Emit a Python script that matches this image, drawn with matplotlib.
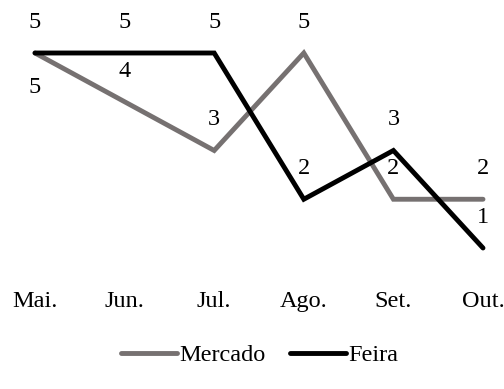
import matplotlib.pyplot as plt

# Data
meses = ["Mai.", "Jun.", "Jul.", "Ago.", "Set.", "Out."]
mercado = [5, 4, 3, 5, 2, 2]
feira = [5, 5, 5, 2, 3, 1]

plt.rcParams['font.family'] = ['Liberation Serif', 'DejaVu Serif']

fig = plt.figure(figsize=(5.04, 3.89), dpi=100)
W, H = 504, 389
# axes area in pixels (plot region only)
ax = fig.add_axes([0, 1 - 270 / H, 1, 270 / H])

x = list(range(len(meses)))
step = 89.6
ax.set_xlim(-35 / step, (W - 35) / step)
unit = 48.75
ax.set_ylim(5 - (270 - 53) / unit, 5 + 53 / unit)

gray = "#767171"
ax.plot(x, mercado, color=gray, lw=3.5, solid_capstyle="round",
        solid_joinstyle="miter", label="Mercado", clip_on=False)
ax.plot(x, feira, color="black", lw=3.5, solid_capstyle="round",
        solid_joinstyle="miter", label="Feira", clip_on=False)

# data labels
fs = 17.5
for i, v in enumerate(mercado):
    dy = -25 if i == 0 else 22
    ax.annotate(str(v), (i, v), xytext=(0, dy), textcoords="offset points",
                ha="center", va="center", fontsize=fs)
for i, v in enumerate(feira):
    ax.annotate(str(v), (i, v), xytext=(0, 22), textcoords="offset points",
                ha="center", va="center", fontsize=fs)

ax.set_xticks(x)
ax.set_xticklabels(meses, fontsize=fs)
ax.tick_params(axis="x", length=0, pad=15)
ax.set_yticks([])
for s in ax.spines.values():
    s.set_visible(False)

fig.legend(loc="center", bbox_to_anchor=(0.5 + 8 / W, 1 - 355 / H), ncol=2,
           frameon=False, fontsize=fs, handlelength=2.3, handletextpad=0.1,
           columnspacing=1.0)

fig.savefig("out.png", dpi=100)
